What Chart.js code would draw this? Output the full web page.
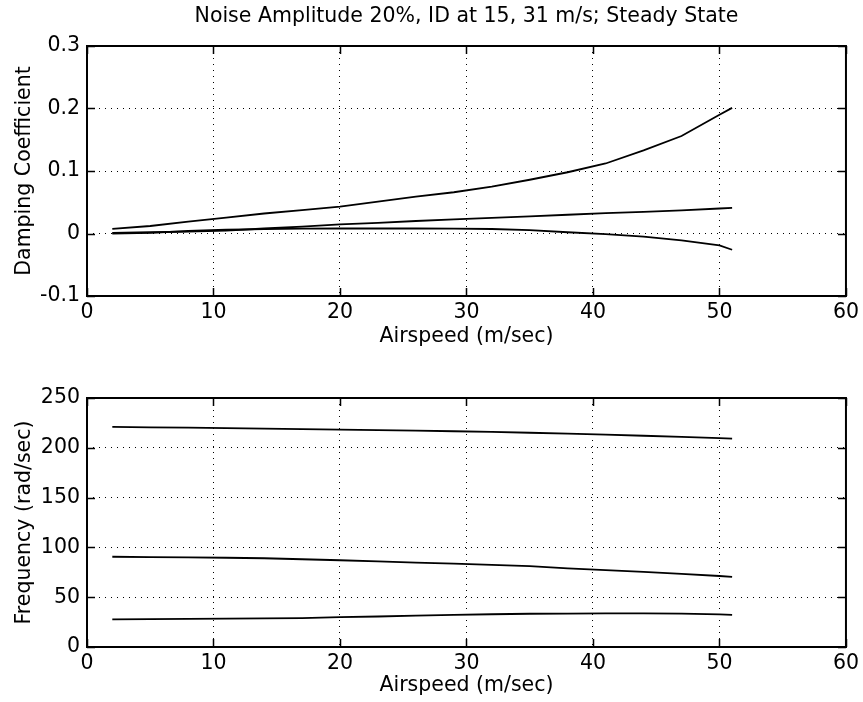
<!DOCTYPE html>
<html><head><meta charset="utf-8">
<script src="https://cdn.jsdelivr.net/npm/chart.js@4/dist/chart.umd.min.js"></script>
<style>
html,body{margin:0;padding:0;background:#fff;width:863px;height:702px;overflow:hidden;}
#c1{position:absolute;left:0;top:0;}
#c2{position:absolute;left:0;top:350px;}
</style></head><body>
<canvas id="c1" width="863" height="350"></canvas>
<canvas id="c2" width="863" height="352"></canvas>
<script>
const titleText = "Noise Amplitude 20%, ID at 15, 31 m/s; Steady State";
const xAxisTitle = "Airspeed (m/sec)";
const dampAxisTitle = "Damping Coefficient";
const freqAxisTitle = "Frequency (rad/sec)";

const airspeed = [2,5,8,11,14,17,20,23,26,29,32,35,38,41,44,47,50,51];

const dampA = [0.0075,0.012,0.019,0.0255,0.032,0.0375,0.043,0.051,0.059,0.066,0.075,0.086,0.098,0.112,0.133,0.156,0.19,0.201];
const dampB = [0.001,0.002,0.003,0.0045,0.008,0.011,0.0145,0.017,0.020,0.0225,0.025,0.0275,0.030,0.0325,0.0345,0.037,0.040,0.041];
const dampC = [0.0,0.001,0.004,0.006,0.007,0.0078,0.008,0.008,0.008,0.0078,0.0072,0.0055,0.002,-0.001,-0.005,-0.011,-0.019,-0.026];

const freqA = [221.0,220.6,220.2,219.8,219.3,218.8,218.3,217.8,217.3,216.6,216.0,215.1,214.3,213.2,212.1,210.9,209.7,209.3];
const freqB = [90.6,90.3,90.0,89.6,89.1,88.1,87.1,85.9,84.7,83.7,82.5,81.2,79.0,77.2,75.5,73.5,71.3,70.5];
const freqC = [27.8,28.0,28.2,28.4,28.7,29.0,29.9,30.6,31.5,32.2,32.9,33.4,33.6,33.7,33.7,33.5,32.8,32.3];

const xTickValues = [0,10,20,30,40,50,60];
const xTickLabels = ["0","10","20","30","40","50","60"];
const dampTickValues = [-0.1,0,0.1,0.2,0.3];
const dampTickLabels = ["-0.1","0","0.1","0.2","0.3"];
const freqTickValues = [0,50,100,150,200,250];
const freqTickLabels = ["0","50","100","150","200","250"];

const FS = 20.5;
Chart.defaults.font.family = '"DejaVu Sans", Verdana, sans-serif';
Chart.defaults.font.size = FS;
Chart.defaults.color = '#000';
Chart.defaults.animation = false;

const frameTicks = {
  id: 'frameTicks',
  afterDatasetsDraw(chart) {
    const {ctx, chartArea: a, scales: {x, y}} = chart;
    const L = 8;
    ctx.save();
    ctx.strokeStyle = '#000';
    ctx.lineWidth = 1.5;
    ctx.beginPath();
    x.ticks.forEach(t => {
      const px = Math.round(x.getPixelForValue(t.value)) + 0.5;
      ctx.moveTo(px, a.bottom); ctx.lineTo(px, a.bottom - L);
      ctx.moveTo(px, a.top); ctx.lineTo(px, a.top + L);
    });
    y.ticks.forEach(t => {
      const py = Math.round(y.getPixelForValue(t.value)) + 0.5;
      ctx.moveTo(a.left, py); ctx.lineTo(a.left + L, py);
      ctx.moveTo(a.right, py); ctx.lineTo(a.right - L, py);
    });
    ctx.stroke();
    ctx.lineWidth = 2;
    ctx.strokeRect(a.left, a.top, a.right - a.left, a.bottom - a.top);
    ctx.restore();
  }
};

function series(ys) { return airspeed.map((v, i) => ({x: v, y: ys[i]})); }
function ds(ys) {
  return {data: series(ys), borderColor: '#000', borderWidth: 1.8, pointRadius: 0, fill: false, tension: 0};
}

function makeChart(id, sets, yVals, yLabels, yTitle, opts) {
  return new Chart(document.getElementById(id), {
    type: 'line',
    data: {datasets: sets.map(ds)},
    plugins: [frameTicks],
    options: {
      responsive: false,
      layout: {padding: {left: 0, right: 16, top: opts.padTop, bottom: 0}},
      plugins: {
        legend: {display: false},
        tooltip: {enabled: false},
        title: opts.title ? {display: true, fullSize: false, text: opts.title, font: {size: FS, weight: 'normal'}, color: '#000', padding: {top: 4.5, bottom: 16.9}} : {display: false}
      },
      scales: {
        x: {
          type: 'linear', min: 0, max: 60,
          afterBuildTicks: s => { s.ticks = xTickValues.map(v => ({value: v})); },
          afterFit: s => { s.height = opts.xHeight; },
          ticks: {padding: 4, maxRotation: 0, autoSkip: false, callback: (v, i) => xTickLabels[i]},
          grid: {color: '#000', lineWidth: 1, drawTicks: false},
          border: {display: false, dash: [1, 5]},
          title: {display: true, text: xAxisTitle, font: {size: FS}, padding: {top: 0, bottom: opts.xTitlePad}}
        },
        y: {
          type: 'linear', min: yVals[0], max: yVals[yVals.length - 1],
          afterBuildTicks: s => { s.ticks = yVals.map(v => ({value: v})); },
          afterFit: s => { s.width = 87; },
          ticks: {padding: 7, autoSkip: false, callback: (v, i) => yLabels[i]},
          grid: {color: '#000', lineWidth: 1, drawTicks: false},
          border: {display: false, dash: [1, 5]},
          title: {display: true, text: yTitle, font: {size: FS}, padding: {top: 12.7, bottom: 0}}
        }
      }
    }
  });
}

makeChart('c1', [dampA, dampB, dampC], dampTickValues, dampTickLabels, dampAxisTitle,
  {padTop: 0, xHeight: 54, xTitlePad: 0.7, title: titleText});
makeChart('c2', [freqA, freqB, freqC], freqTickValues, freqTickLabels, freqAxisTitle,
  {padTop: 48, xHeight: 55, xTitlePad: 3.7, title: null});
</script>
</body></html>
